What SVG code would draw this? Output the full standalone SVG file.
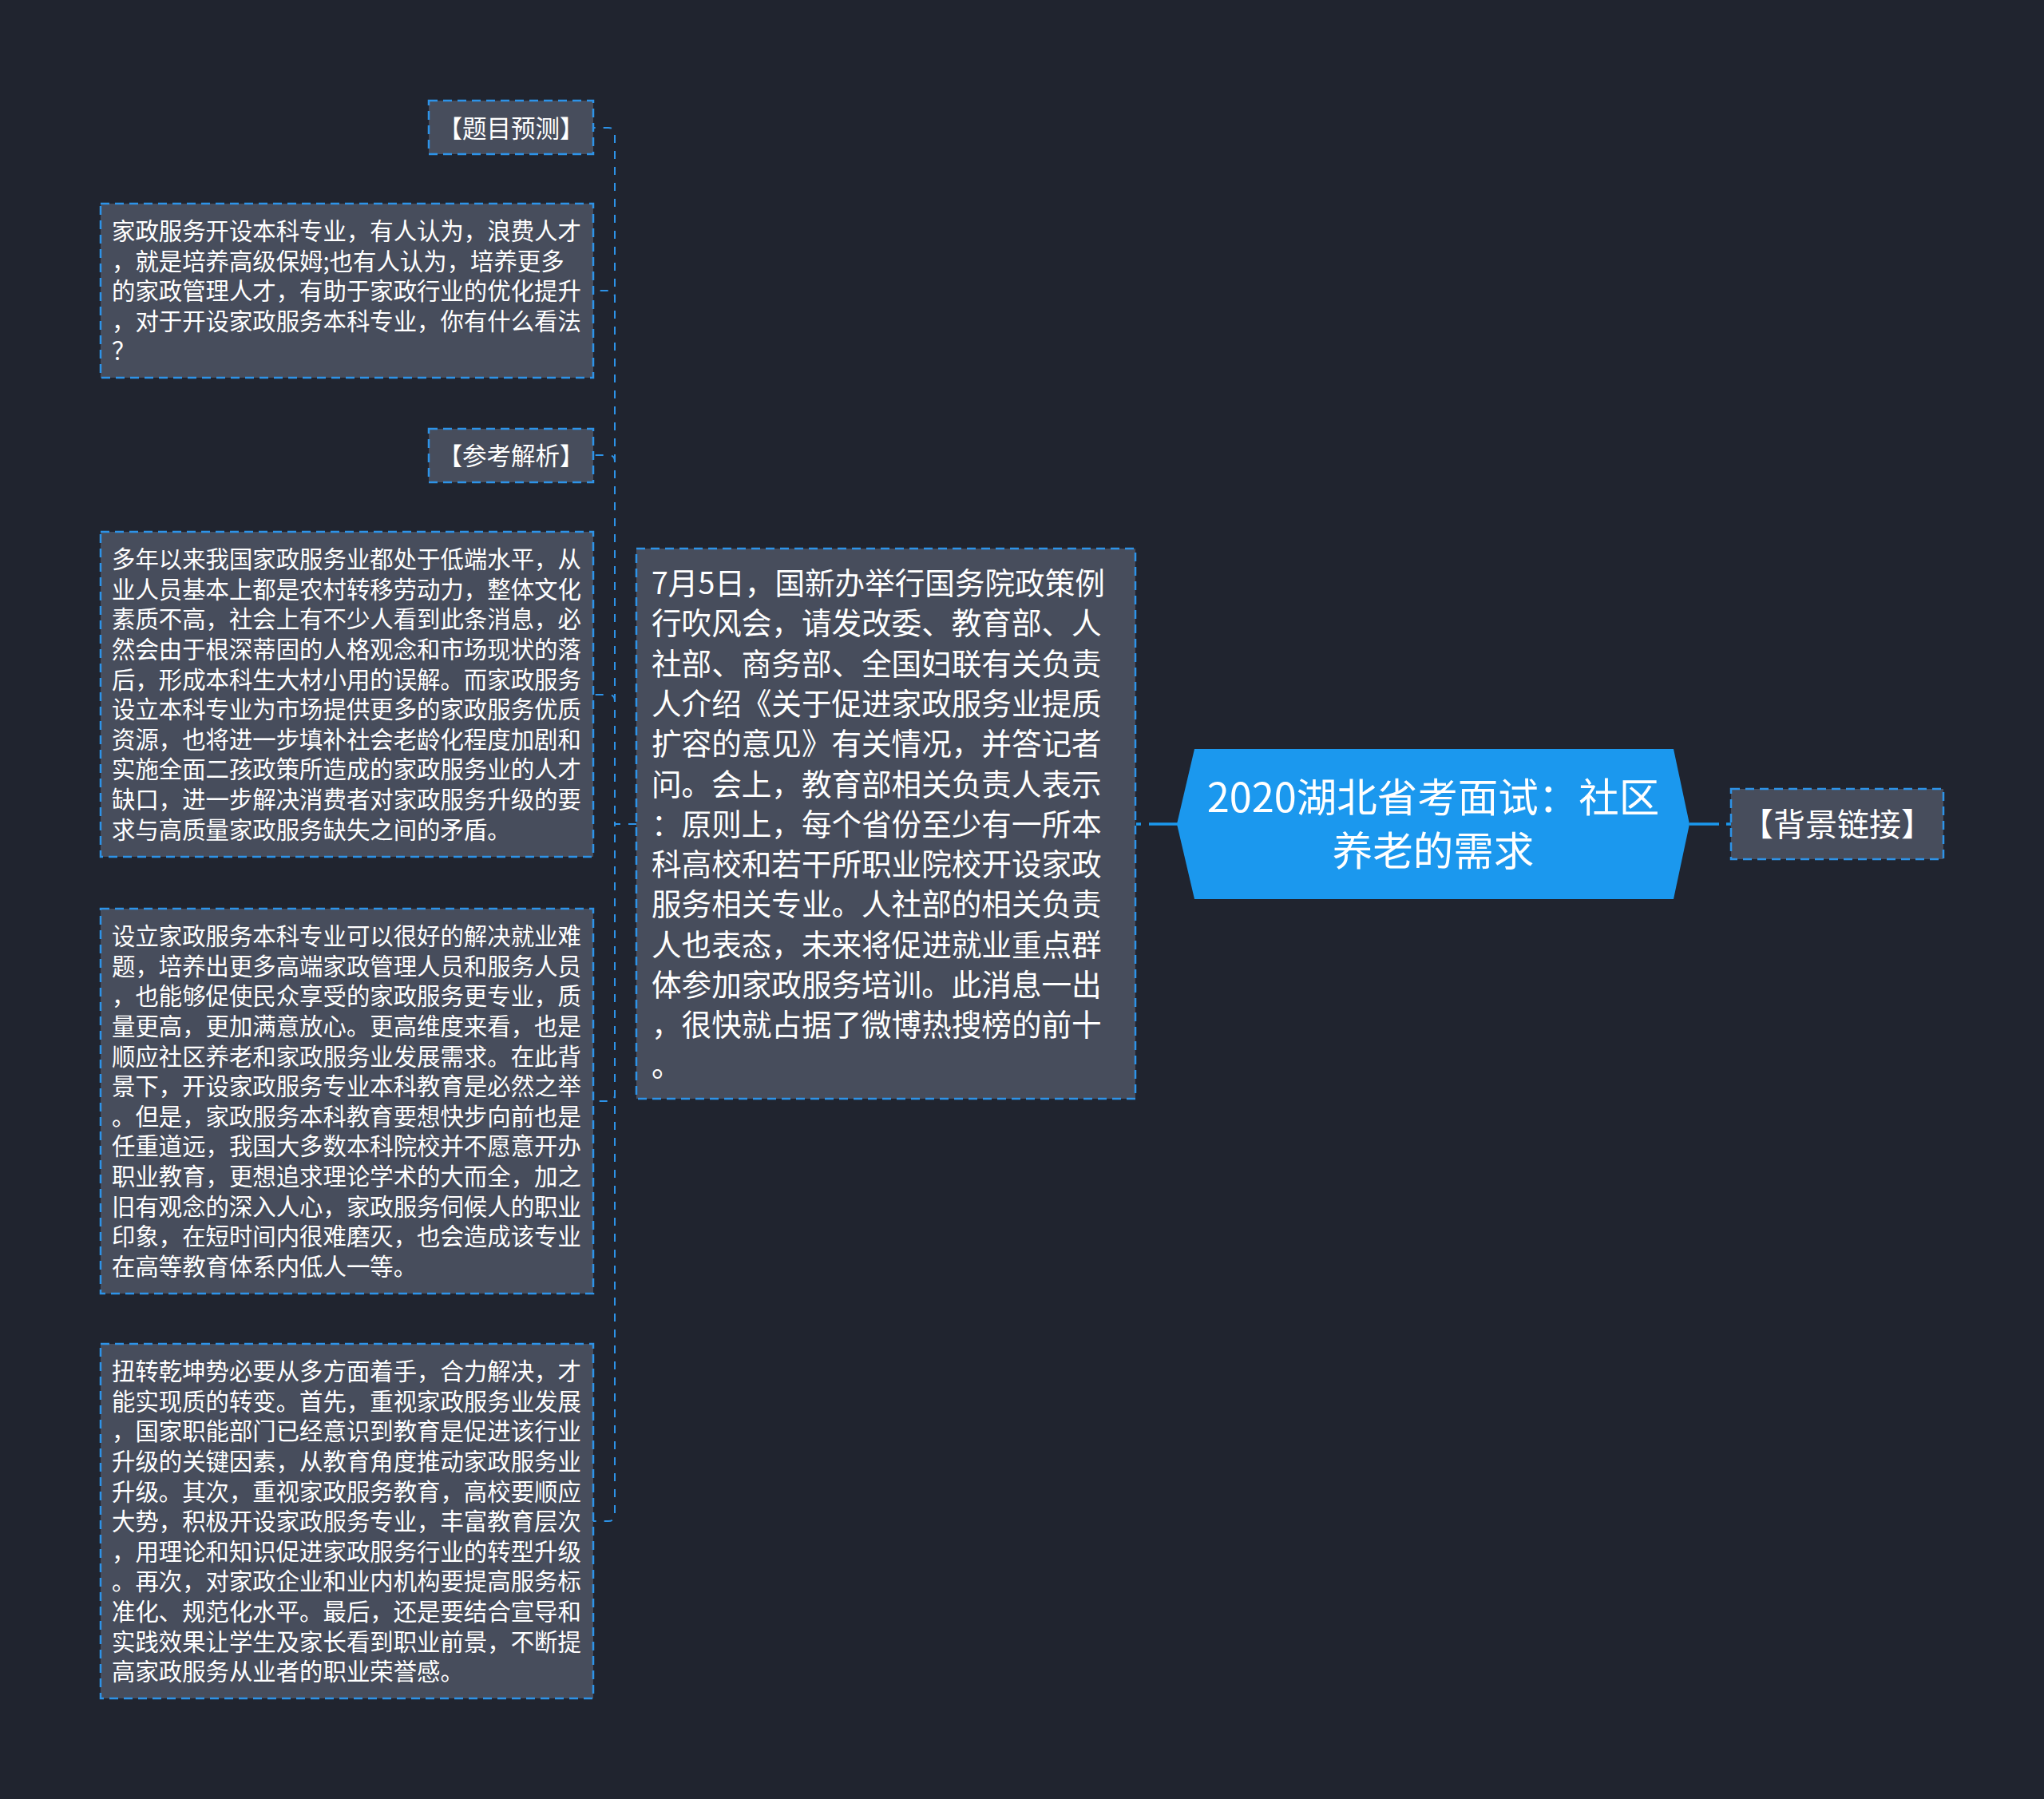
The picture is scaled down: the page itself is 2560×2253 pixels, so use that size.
<svg xmlns="http://www.w3.org/2000/svg" width="2560" height="2253" viewBox="0 0 2560 2253">
<style>
.bg{fill:#20242f}
.box{fill:#474d5c;stroke:#2d93e8;stroke-width:2.5;stroke-dasharray:11 7}
.root{fill:#1b98ee}
.t{font-family:"Noto Sans CJK SC","Noto Sans",sans-serif;fill:#ffffff}
.s{font-size:29.4px}
.lb{font-size:30.5px}
.m{font-size:37.6px}
.r{font-size:50.5px;text-anchor:middle}
.l{font-size:40px;text-anchor:middle}
.c{text-anchor:middle}
.con{fill:none;stroke:#2d93e8;stroke-width:2;stroke-dasharray:10 10}
.main{fill:none;stroke:#1b98ee;stroke-width:3.5}
</style>
<rect class="bg" x="0" y="0" width="2560" height="2253"/>
<g id="connectors">
<path class="con" d="M797,1032 L770,1032 L770,168 Q770,160 762,160 L743,160"/>
<path class="con" d="M797,1032 L770,1032 L770,372 Q770,364 762,364 L743,364"/>
<path class="con" d="M797,1032 L770,1032 L770,578 Q770,570 762,570 L743,570"/>
<path class="con" d="M797,1032 L770,1032 L770,878 Q770,870 762,870 L743,870"/>
<path class="con" d="M797,1032 L770,1032 L770,1371 Q770,1379 762,1379 L743,1379"/>
<path class="con" d="M797,1032 L770,1032 L770,1897 Q770,1905 762,1905 L743,1905"/>
<path class="main" style="stroke-dasharray:37 10" d="M1476,1032 L1423,1032"/>
<path class="main" style="stroke-dasharray:37 9" d="M2116,1032 L2169,1032"/>
</g>
<g id="root">
<polygon class="root" points="1474,1032 1496,938 2096,938 2116,1032 2096,1126 1496,1126"/>
<text class="t r" x="1795" y="1016.7">2020湖北省考面试：社区</text>
<text class="t r" x="1795" y="1083.7">养老的需求</text>
</g>
<g id="background-link">
<rect class="box" x="2168" y="988" width="266" height="88"/>
<text class="t l" x="2301" y="1047">【背景链接】</text>
</g>
<g id="news">
<rect class="box" x="797" y="687" width="625" height="689"/>
<text class="t m" x="816" y="744">7月5日，国新办举行国务院政策例</text>
<text class="t m" x="816" y="794.3">行吹风会，请发改委、教育部、人</text>
<text class="t m" x="816" y="844.6">社部、商务部、全国妇联有关负责</text>
<text class="t m" x="816" y="894.9">人介绍《关于促进家政服务业提质</text>
<text class="t m" x="816" y="945.2">扩容的意见》有关情况，并答记者</text>
<text class="t m" x="816" y="995.5">问。会上，教育部相关负责人表示</text>
<text class="t m" x="816" y="1045.8">：原则上，每个省份至少有一所本</text>
<text class="t m" x="816" y="1096.1">科高校和若干所职业院校开设家政</text>
<text class="t m" x="816" y="1146.4">服务相关专业。人社部的相关负责</text>
<text class="t m" x="816" y="1196.7">人也表态，未来将促进就业重点群</text>
<text class="t m" x="816" y="1247">体参加家政服务培训。此消息一出</text>
<text class="t m" x="816" y="1297.3">，很快就占据了微博热搜榜的前十</text>
<text class="t m" x="816" y="1347.6">。</text>
</g>
<g id="topic-label">
<rect class="box" x="537" y="126" width="206" height="67"/>
<text class="t lb c" x="640" y="171.5">【题目预测】</text>
</g>
<g id="topic">
<rect class="box" x="126" y="255" width="617" height="218"/>
<text class="t s" x="140" y="300">家政服务开设本科专业，有人认为，浪费人才</text>
<text class="t s" x="140" y="337.6">，就是培养高级保姆;也有人认为，培养更多</text>
<text class="t s" x="140" y="375.2">的家政管理人才，有助于家政行业的优化提升</text>
<text class="t s" x="140" y="412.8">，对于开设家政服务本科专业，你有什么看法</text>
<text class="t s" x="140" y="450.4">？</text>
</g>
<g id="analysis-label">
<rect class="box" x="537" y="537" width="206" height="67"/>
<text class="t lb c" x="640" y="581.5">【参考解析】</text>
</g>
<g id="analysis-1">
<rect class="box" x="126" y="666" width="617" height="407"/>
<text class="t s" x="140" y="711.2">多年以来我国家政服务业都处于低端水平，从</text>
<text class="t s" x="140" y="748.8">业人员基本上都是农村转移劳动力，整体文化</text>
<text class="t s" x="140" y="786.4">素质不高，社会上有不少人看到此条消息，必</text>
<text class="t s" x="140" y="824">然会由于根深蒂固的人格观念和市场现状的落</text>
<text class="t s" x="140" y="861.6">后，形成本科生大材小用的误解。而家政服务</text>
<text class="t s" x="140" y="899.2">设立本科专业为市场提供更多的家政服务优质</text>
<text class="t s" x="140" y="936.8">资源，也将进一步填补社会老龄化程度加剧和</text>
<text class="t s" x="140" y="974.4">实施全面二孩政策所造成的家政服务业的人才</text>
<text class="t s" x="140" y="1012">缺口，进一步解决消费者对家政服务升级的要</text>
<text class="t s" x="140" y="1049.6">求与高质量家政服务缺失之间的矛盾。</text>
</g>
<g id="analysis-2">
<rect class="box" x="126" y="1138" width="617" height="482"/>
<text class="t s" x="140" y="1183.2">设立家政服务本科专业可以很好的解决就业难</text>
<text class="t s" x="140" y="1220.8">题，培养出更多高端家政管理人员和服务人员</text>
<text class="t s" x="140" y="1258.4">，也能够促使民众享受的家政服务更专业，质</text>
<text class="t s" x="140" y="1296">量更高，更加满意放心。更高维度来看，也是</text>
<text class="t s" x="140" y="1333.6">顺应社区养老和家政服务业发展需求。在此背</text>
<text class="t s" x="140" y="1371.2">景下，开设家政服务专业本科教育是必然之举</text>
<text class="t s" x="140" y="1408.8">。但是，家政服务本科教育要想快步向前也是</text>
<text class="t s" x="140" y="1446.4">任重道远，我国大多数本科院校并不愿意开办</text>
<text class="t s" x="140" y="1484">职业教育，更想追求理论学术的大而全，加之</text>
<text class="t s" x="140" y="1521.6">旧有观念的深入人心，家政服务伺候人的职业</text>
<text class="t s" x="140" y="1559.2">印象，在短时间内很难磨灭，也会造成该专业</text>
<text class="t s" x="140" y="1596.8">在高等教育体系内低人一等。</text>
</g>
<g id="analysis-3">
<rect class="box" x="126" y="1683" width="617" height="444"/>
<text class="t s" x="140" y="1728.2">扭转乾坤势必要从多方面着手，合力解决，才</text>
<text class="t s" x="140" y="1765.8">能实现质的转变。首先，重视家政服务业发展</text>
<text class="t s" x="140" y="1803.4">，国家职能部门已经意识到教育是促进该行业</text>
<text class="t s" x="140" y="1841">升级的关键因素，从教育角度推动家政服务业</text>
<text class="t s" x="140" y="1878.6">升级。其次，重视家政服务教育，高校要顺应</text>
<text class="t s" x="140" y="1916.2">大势，积极开设家政服务专业，丰富教育层次</text>
<text class="t s" x="140" y="1953.8">，用理论和知识促进家政服务行业的转型升级</text>
<text class="t s" x="140" y="1991.4">。再次，对家政企业和业内机构要提高服务标</text>
<text class="t s" x="140" y="2029">准化、规范化水平。最后，还是要结合宣导和</text>
<text class="t s" x="140" y="2066.6">实践效果让学生及家长看到职业前景，不断提</text>
<text class="t s" x="140" y="2104.2">高家政服务从业者的职业荣誉感。</text>
</g>
</svg>
